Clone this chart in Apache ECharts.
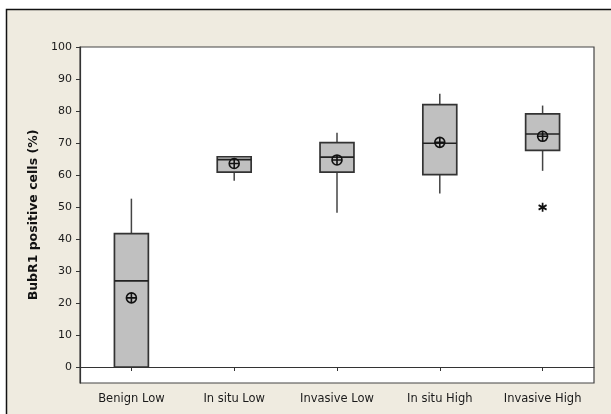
<!DOCTYPE html>
<html>
<head>
<meta charset="utf-8">
<script src="https://cdn.jsdelivr.net/npm/echarts@6/dist/echarts.min.js"></script>
<style>
html,body{margin:0;padding:0;background:#ffffff;}
#chart{width:611px;height:414px;}
</style>
</head>
<body>
<div id="chart"></div>
<script>
var categories = ['Benign Low', 'In situ Low', 'Invasive Low', 'In situ High', 'Invasive High'];
var whiskerLow = [0, 58.2, 48.2, 54.2, 61.3];
var q1 = [0, 60.9, 60.9, 60.1, 67.7];
var median = [26.9, 64.8, 65.6, 69.9, 72.8];
var q3 = [41.7, 65.7, 70.1, 82.0, 79.1];
var whiskerHigh = [52.6, 65.7, 73.2, 85.4, 81.7];
var means = [21.6, 63.6, 64.7, 70.2, 72.1];
var outlierCats = ['Invasive High'];
var outlierValues = [49.9];
var yTicks = [0, 10, 20, 30, 40, 50, 60, 70, 80, 90, 100];
var yTitle = 'BubR1 positive cells (%)';

var boxData = categories.map(function (c, i) {
  return [i, whiskerLow[i], q1[i], median[i], q3[i], whiskerHigh[i]];
});
var meanData = categories.map(function (c, i) { return [i, means[i]]; });
var outlierData = outlierCats.map(function (c, i) { return [categories.indexOf(c), outlierValues[i]]; });

var chart = echarts.init(document.getElementById('chart'), null, {renderer: 'canvas'});
var font = 'DejaVu Sans, Verdana, sans-serif';

chart.setOption({
  animation: false,
  backgroundColor: '#ffffff',
  graphic: [{
    type: 'rect', z: -10, silent: true,
    shape: {x: 6.5, y: 9.5, width: 700, height: 500},
    style: {fill: '#efebe0', stroke: '#111111', lineWidth: 1.5}
  }],
  grid: {
    left: 80, top: 47, right: 17, bottom: 31,
    show: true, backgroundColor: '#ffffff', borderColor: '#444444', borderWidth: 1.2
  },
  xAxis: {
    type: 'category',
    data: categories,
    boundaryGap: true,
    axisLine: {show: true, lineStyle: {color: '#333333', width: 1.2}},
    axisTick: {show: true, alignWithLabel: true, length: 4, lineStyle: {color: '#333333'}},
    axisLabel: {color: '#1a1a1a', fontFamily: font, fontSize: 11.5, margin: 10},
    splitLine: {show: false}
  },
  yAxis: {
    type: 'value',
    min: -5, max: 100,
    name: yTitle,
    nameLocation: 'middle',
    nameGap: 40,
    nameTextStyle: {color: '#111111', fontFamily: font, fontSize: 12.5, fontWeight: 'bold'},
    axisLine: {show: true, lineStyle: {color: '#333333', width: 1.2}},
    axisTick: {show: true, length: 4, customValues: yTicks, lineStyle: {color: '#333333'}},
    axisLabel: {color: '#1a1a1a', fontFamily: font, fontSize: 11, margin: 8, customValues: yTicks},
    splitLine: {show: false}
  },
  series: [{
    type: 'custom',
    data: boxData,
    encode: {x: 0, y: [1, 2, 3, 4, 5]},
    z: 2,
    renderItem: function (params, api) {
      var i = api.value(0);
      var pLo = api.coord([i, api.value(1)]);
      var pQ1 = api.coord([i, api.value(2)]);
      var pMed = api.coord([i, api.value(3)]);
      var pQ3 = api.coord([i, api.value(4)]);
      var pHi = api.coord([i, api.value(5)]);
      var bw = api.size([1, 0])[0] * 0.33;
      var x = pMed[0];
      var l = x - bw / 2, r = x + bw / 2;
      var wStyle = {stroke: '#444444', lineWidth: 1.5};
      return {
        type: 'group',
        children: [
          {type: 'line', shape: {x1: x, y1: pQ3[1], x2: x, y2: pHi[1]}, style: wStyle},
          {type: 'line', shape: {x1: x, y1: pQ1[1], x2: x, y2: pLo[1]}, style: wStyle},
          {type: 'rect', shape: {x: l, y: pQ3[1], width: bw, height: pQ1[1] - pQ3[1]},
            style: {fill: '#c0c0c0', stroke: '#333333', lineWidth: 1.7}},
          {type: 'line', shape: {x1: l, y1: pMed[1], x2: r, y2: pMed[1]},
            style: {stroke: '#222222', lineWidth: 1.6}}
        ]
      };
    }
  }, {
    type: 'scatter',
    data: meanData,
    z: 5,
    symbol: 'path://M0,-5A5,5 0 1,1 0,5A5,5 0 1,1 0,-5ZM-5,0L5,0M0,-5L0,5',
    symbolSize: 10,
    itemStyle: {color: 'none', borderColor: '#111111', borderWidth: 1.6, opacity: 1}
  }, {
    type: 'scatter',
    data: outlierData,
    z: 5,
    symbol: 'path://M0,-5L0,5M-4.3,-2.5L4.3,2.5M-4.3,2.5L4.3,-2.5',
    symbolSize: [8, 9],
    itemStyle: {color: 'none', borderColor: '#111111', borderWidth: 1.8, opacity: 1}
  }]
});
</script>
</body>
</html>
